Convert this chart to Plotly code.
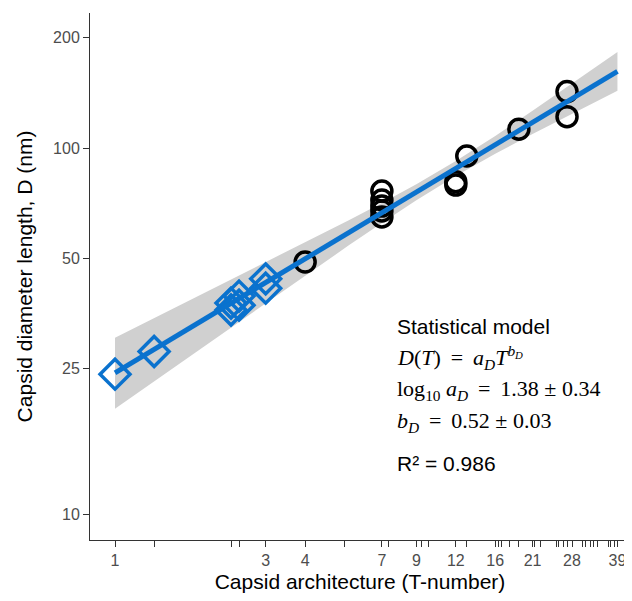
import plotly.graph_objects as go

# ---------------- data ----------------
diamond_T = [1, 1.33, 2.33, 2.33, 2.47, 2.47, 3, 3]
diamond_D = [24.1, 27.8, 37.7, 36.1, 39.4, 37.2, 43.9, 41.4]

circle_T = [4, 7, 7, 7, 7, 7, 12, 12, 13, 19, 27, 27]
circle_D = [48.8, 76.3, 72.1, 69.4, 67.3, 64.8, 80.9, 79.2, 95.1, 112.5, 142.6, 121.8]

fit_T = [1, 39]
fit_D = [24.3, 161.9]

band_T = [1, 1.5, 2, 3, 4, 5.5, 7, 9, 12, 16, 21, 28, 39]
band_lo = [19.4, 24.8, 29.5, 37.7, 44.8, 54.2, 62.4, 72.0, 83.9, 96.5, 109.2, 124.0, 143.3]
band_hi = [30.3, 36.1, 40.9, 48.7, 55.2, 63.5, 70.8, 79.6, 92.1, 107.9, 126.4, 149.9, 182.9]

x_tick_vals = [1, 1.33, 2.33, 2.47, 3, 4, 5.33, 7, 7.33, 9, 9.33, 9.8, 12, 13,
               16, 16.33, 16.8, 17.8, 19, 21, 21.33, 22.2, 25, 25.33, 26.3, 27,
               28, 30.3, 31, 32, 32.8, 33.7, 36.5, 37, 38.2, 39]
x_labelled = [1, 3, 4, 7, 9, 12, 16, 21, 28, 39]
y_tick_vals = [10, 25, 50, 100, 200]

S = "\u2009"
model_lines = [
    "Statistical model",
    "<i>D</i>(<i>T</i>) " + S + "=" + S + " <i>a</i><sub><i>D</i></sub><i>T</i><sup><i>b</i><sub><i>D</i></sub></sup>",
    "log<sub>10</sub> <i>a</i><sub><i>D</i></sub> " + S + "=" + S + " 1.38 ± 0.34",
    "<i>b</i><sub><i>D</i></sub> " + S + "=" + S + " 0.52 ± 0.03",
    "R² = 0.986",
]

BLUE = "#0A72CE"
SANS = "Liberation Sans, Arial, sans-serif"
SERIF = "Liberation Serif, Times New Roman, serif"

fig = go.Figure()

# confidence band
fig.add_trace(go.Scatter(x=band_T, y=band_lo, mode="lines", line=dict(width=0),
                         showlegend=False, hoverinfo="skip"))
fig.add_trace(go.Scatter(x=band_T, y=band_hi, mode="lines", line=dict(width=0),
                         fill="tonexty", fillcolor="#D0D0D0",
                         showlegend=False, hoverinfo="skip"))

# points
fig.add_trace(go.Scatter(x=diamond_T, y=diamond_D, mode="markers",
                         marker=dict(symbol="diamond-open", size=23,
                                     color=BLUE, line=dict(width=3.5, color=BLUE)),
                         showlegend=False))
fig.add_trace(go.Scatter(x=circle_T, y=circle_D, mode="markers",
                         marker=dict(symbol="circle-open", size=20,
                                     color="black", line=dict(width=3.5, color="black")),
                         showlegend=False))

# fitted line
fig.add_trace(go.Scatter(x=fit_T, y=fit_D, mode="lines",
                         line=dict(color=BLUE, width=5), showlegend=False))

# model text
line_y = [0.406, 0.3454, 0.2846, 0.2239, 0.1461]
fonts = [dict(family=SANS, size=21, color="black"),
         dict(family=SERIF, size=22, color="black"),
         dict(family=SERIF, size=22, color="black"),
         dict(family=SERIF, size=22, color="black"),
         dict(family=SANS, size=21, color="black")]
for txt, yy, f in zip(model_lines, line_y, fonts):
    fig.add_annotation(text=txt, xref="paper", yref="paper", x=0.5648, y=yy,
                       xanchor="left", yanchor="middle", showarrow=False, font=f)

x_tick_text = [str(v) if v in x_labelled else "" for v in x_tick_vals]

# page body has an 8px margin, so the figure is 8px smaller and shifted
fig.update_layout(
    width=624, height=593,
    margin=dict(l=82, r=2, t=5, b=61, autoexpand=False),
    paper_bgcolor="white", plot_bgcolor="white",
    font=dict(family=SANS),
    xaxis=dict(type="log", range=[-0.0792, 1.6308], automargin=False,
               tickmode="array", tickvals=x_tick_vals, ticktext=x_tick_text,
               ticks="outside", ticklen=6, tickwidth=1, tickcolor="#333333",
               showline=True, linecolor="#333333", linewidth=1,
               showgrid=False, zeroline=False,
               tickfont=dict(family=SANS, size=16, color="#4D4D4D"),
               title=dict(text="Capsid architecture (T-number)",
                          font=dict(family=SANS, size=21, color="black"),
                          standoff=6)),
    yaxis=dict(type="log", range=[0.929, 2.3689], automargin=False,
               tickmode="array", tickvals=y_tick_vals,
               ticktext=[str(v) for v in y_tick_vals],
               ticks="outside", ticklen=6, tickwidth=1, tickcolor="#333333",
               showline=True, linecolor="#333333", linewidth=1,
               showgrid=False, zeroline=False,
               tickfont=dict(family=SANS, size=16, color="#4D4D4D"),
               title=dict(text="Capsid diameter length, D (nm)",
                          font=dict(family=SANS, size=21, color="black"),
                          standoff=14)),
)

fig.write_html("out.html")
